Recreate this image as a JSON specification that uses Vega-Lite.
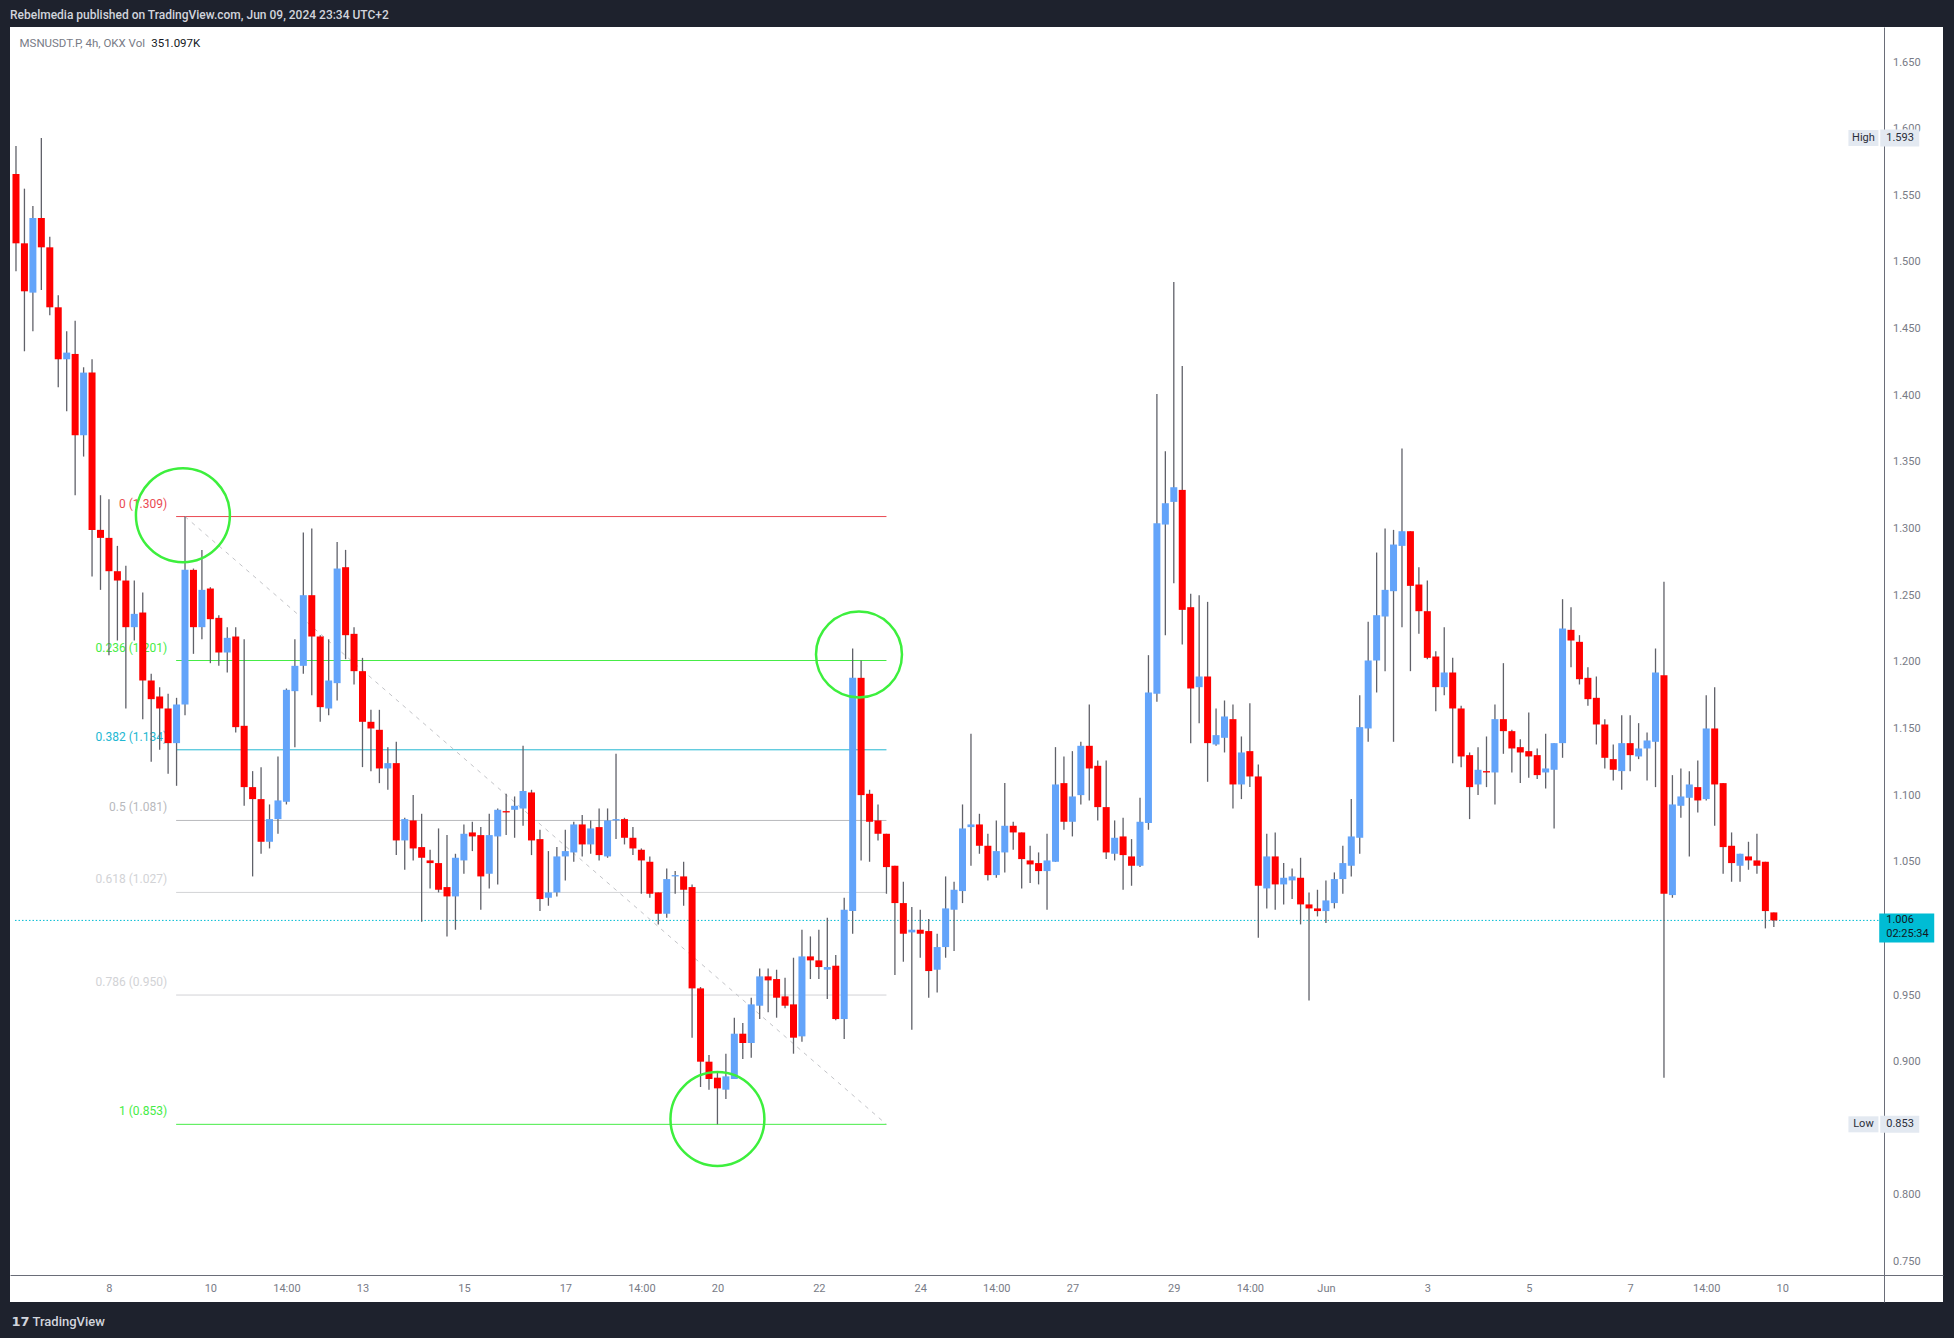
{
  "$schema": "https://vega.github.io/schema/vega-lite/v6.json",
  "width": 1933,
  "height": 1275,
  "autosize": "none",
  "padding": {"left": 10, "top": 27, "right": 11, "bottom": 36},
  "background": "#1e222d",
  "title": {
    "text": "Rebelmedia published on TradingView.com, Jun 09, 2024 23:34 UTC+2",
    "anchor": "start", "color": "#d1d4dc", "font": "Roboto", "fontSize": 12, "fontWeight": 500, "offset": 5
  },
  "config": {
    "font": "Roboto",
    "view": {"fill": "#ffffff", "stroke": null},
    "axis": {
      "grid": false, "ticks": false, "domainColor": "#6a6d78", "labelColor": "#787b86",
      "labelFont": "Roboto", "labelFontSize": 11, "labelOverlap": false, "labelFlush": false, "labelBound": false
    }
  },
  "datasets": {
    "candles": [
      {"t":"2024-05-06T06:00Z","o":1.566,"h":1.587,"l":1.493,"c":1.514},
      {"t":"2024-05-06T10:00Z","o":1.514,"h":1.555,"l":1.433,"c":1.478},
      {"t":"2024-05-06T14:00Z","o":1.477,"h":1.542,"l":1.448,"c":1.533},
      {"t":"2024-05-06T18:00Z","o":1.533,"h":1.593,"l":1.479,"c":1.511},
      {"t":"2024-05-06T22:00Z","o":1.511,"h":1.519,"l":1.460,"c":1.466},
      {"t":"2024-05-07T02:00Z","o":1.466,"h":1.475,"l":1.406,"c":1.427},
      {"t":"2024-05-07T06:00Z","o":1.427,"h":1.448,"l":1.388,"c":1.432},
      {"t":"2024-05-07T10:00Z","o":1.431,"h":1.456,"l":1.325,"c":1.370},
      {"t":"2024-05-07T14:00Z","o":1.370,"h":1.421,"l":1.354,"c":1.417},
      {"t":"2024-05-07T18:00Z","o":1.417,"h":1.427,"l":1.264,"c":1.299},
      {"t":"2024-05-07T22:00Z","o":1.299,"h":1.325,"l":1.254,"c":1.293},
      {"t":"2024-05-08T02:00Z","o":1.293,"h":1.322,"l":1.205,"c":1.268},
      {"t":"2024-05-08T06:00Z","o":1.268,"h":1.287,"l":1.216,"c":1.261},
      {"t":"2024-05-08T10:00Z","o":1.261,"h":1.272,"l":1.165,"c":1.226},
      {"t":"2024-05-08T14:00Z","o":1.226,"h":1.261,"l":1.216,"c":1.236},
      {"t":"2024-05-08T18:00Z","o":1.237,"h":1.252,"l":1.157,"c":1.186},
      {"t":"2024-05-08T22:00Z","o":1.186,"h":1.191,"l":1.125,"c":1.172},
      {"t":"2024-05-09T02:00Z","o":1.174,"h":1.181,"l":1.134,"c":1.165},
      {"t":"2024-05-09T06:00Z","o":1.165,"h":1.176,"l":1.116,"c":1.139},
      {"t":"2024-05-09T10:00Z","o":1.139,"h":1.173,"l":1.107,"c":1.168},
      {"t":"2024-05-09T14:00Z","o":1.168,"h":1.309,"l":1.160,"c":1.269},
      {"t":"2024-05-09T18:00Z","o":1.269,"h":1.270,"l":1.206,"c":1.226},
      {"t":"2024-05-09T22:00Z","o":1.226,"h":1.284,"l":1.217,"c":1.254},
      {"t":"2024-05-10T02:00Z","o":1.255,"h":1.256,"l":1.199,"c":1.232},
      {"t":"2024-05-10T06:00Z","o":1.233,"h":1.235,"l":1.197,"c":1.207},
      {"t":"2024-05-10T10:00Z","o":1.207,"h":1.226,"l":1.192,"c":1.218},
      {"t":"2024-05-10T14:00Z","o":1.219,"h":1.226,"l":1.147,"c":1.151},
      {"t":"2024-05-10T18:00Z","o":1.152,"h":1.217,"l":1.092,"c":1.106},
      {"t":"2024-05-10T22:00Z","o":1.106,"h":1.118,"l":1.039,"c":1.097},
      {"t":"2024-05-11T02:00Z","o":1.097,"h":1.121,"l":1.056,"c":1.065},
      {"t":"2024-05-11T06:00Z","o":1.065,"h":1.093,"l":1.060,"c":1.082},
      {"t":"2024-05-11T10:00Z","o":1.082,"h":1.129,"l":1.071,"c":1.096},
      {"t":"2024-05-11T14:00Z","o":1.095,"h":1.180,"l":1.093,"c":1.179},
      {"t":"2024-05-11T18:00Z","o":1.178,"h":1.217,"l":1.136,"c":1.197},
      {"t":"2024-05-11T22:00Z","o":1.197,"h":1.297,"l":1.191,"c":1.250},
      {"t":"2024-05-12T02:00Z","o":1.250,"h":1.300,"l":1.175,"c":1.219},
      {"t":"2024-05-12T06:00Z","o":1.219,"h":1.220,"l":1.155,"c":1.166},
      {"t":"2024-05-12T10:00Z","o":1.165,"h":1.217,"l":1.160,"c":1.186},
      {"t":"2024-05-12T14:00Z","o":1.184,"h":1.290,"l":1.171,"c":1.270},
      {"t":"2024-05-12T18:00Z","o":1.271,"h":1.284,"l":1.202,"c":1.220},
      {"t":"2024-05-12T22:00Z","o":1.221,"h":1.226,"l":1.183,"c":1.193},
      {"t":"2024-05-13T02:00Z","o":1.193,"h":1.203,"l":1.121,"c":1.155},
      {"t":"2024-05-13T06:00Z","o":1.155,"h":1.164,"l":1.118,"c":1.150},
      {"t":"2024-05-13T10:00Z","o":1.149,"h":1.164,"l":1.109,"c":1.120},
      {"t":"2024-05-13T14:00Z","o":1.120,"h":1.136,"l":1.104,"c":1.124},
      {"t":"2024-05-13T18:00Z","o":1.124,"h":1.140,"l":1.055,"c":1.066},
      {"t":"2024-05-13T22:00Z","o":1.066,"h":1.083,"l":1.044,"c":1.082},
      {"t":"2024-05-14T02:00Z","o":1.081,"h":1.100,"l":1.051,"c":1.060},
      {"t":"2024-05-14T06:00Z","o":1.061,"h":1.086,"l":1.005,"c":1.053},
      {"t":"2024-05-14T10:00Z","o":1.051,"h":1.059,"l":1.030,"c":1.049},
      {"t":"2024-05-14T14:00Z","o":1.049,"h":1.075,"l":1.027,"c":1.029},
      {"t":"2024-05-14T18:00Z","o":1.031,"h":1.070,"l":0.994,"c":1.024},
      {"t":"2024-05-14T22:00Z","o":1.024,"h":1.056,"l":0.999,"c":1.053},
      {"t":"2024-05-15T02:00Z","o":1.051,"h":1.078,"l":1.041,"c":1.071},
      {"t":"2024-05-15T06:00Z","o":1.072,"h":1.080,"l":1.058,"c":1.069},
      {"t":"2024-05-15T10:00Z","o":1.070,"h":1.076,"l":1.014,"c":1.039},
      {"t":"2024-05-15T14:00Z","o":1.041,"h":1.086,"l":1.030,"c":1.070},
      {"t":"2024-05-15T18:00Z","o":1.069,"h":1.090,"l":1.033,"c":1.089},
      {"t":"2024-05-15T22:00Z","o":1.088,"h":1.101,"l":1.070,"c":1.087},
      {"t":"2024-05-16T02:00Z","o":1.089,"h":1.099,"l":1.068,"c":1.092},
      {"t":"2024-05-16T06:00Z","o":1.090,"h":1.137,"l":1.077,"c":1.103},
      {"t":"2024-05-16T10:00Z","o":1.102,"h":1.104,"l":1.055,"c":1.066},
      {"t":"2024-05-16T14:00Z","o":1.067,"h":1.074,"l":1.013,"c":1.022},
      {"t":"2024-05-16T18:00Z","o":1.023,"h":1.058,"l":1.017,"c":1.027},
      {"t":"2024-05-16T22:00Z","o":1.027,"h":1.061,"l":1.024,"c":1.054},
      {"t":"2024-05-17T02:00Z","o":1.054,"h":1.074,"l":1.036,"c":1.058},
      {"t":"2024-05-17T06:00Z","o":1.057,"h":1.080,"l":1.050,"c":1.078},
      {"t":"2024-05-17T10:00Z","o":1.078,"h":1.085,"l":1.054,"c":1.063},
      {"t":"2024-05-17T14:00Z","o":1.063,"h":1.081,"l":1.056,"c":1.075},
      {"t":"2024-05-17T18:00Z","o":1.076,"h":1.090,"l":1.051,"c":1.055},
      {"t":"2024-05-17T22:00Z","o":1.054,"h":1.090,"l":1.053,"c":1.081},
      {"t":"2024-05-18T02:00Z","o":1.081,"h":1.131,"l":1.067,"c":1.082},
      {"t":"2024-05-18T06:00Z","o":1.082,"h":1.083,"l":1.063,"c":1.068},
      {"t":"2024-05-18T10:00Z","o":1.068,"h":1.076,"l":1.055,"c":1.060},
      {"t":"2024-05-18T14:00Z","o":1.059,"h":1.060,"l":1.026,"c":1.051},
      {"t":"2024-05-18T18:00Z","o":1.050,"h":1.054,"l":1.023,"c":1.026},
      {"t":"2024-05-18T22:00Z","o":1.027,"h":1.027,"l":1.003,"c":1.011},
      {"t":"2024-05-19T02:00Z","o":1.011,"h":1.045,"l":1.008,"c":1.037},
      {"t":"2024-05-19T06:00Z","o":1.039,"h":1.043,"l":1.026,"c":1.040},
      {"t":"2024-05-19T10:00Z","o":1.039,"h":1.050,"l":1.017,"c":1.029},
      {"t":"2024-05-19T14:00Z","o":1.031,"h":1.033,"l":0.918,"c":0.955},
      {"t":"2024-05-19T18:00Z","o":0.955,"h":0.956,"l":0.881,"c":0.900},
      {"t":"2024-05-19T22:00Z","o":0.900,"h":0.905,"l":0.879,"c":0.887},
      {"t":"2024-05-20T02:00Z","o":0.888,"h":0.893,"l":0.853,"c":0.880},
      {"t":"2024-05-20T06:00Z","o":0.879,"h":0.906,"l":0.872,"c":0.889},
      {"t":"2024-05-20T10:00Z","o":0.887,"h":0.933,"l":0.887,"c":0.921},
      {"t":"2024-05-20T14:00Z","o":0.921,"h":0.929,"l":0.902,"c":0.914},
      {"t":"2024-05-20T18:00Z","o":0.914,"h":0.948,"l":0.903,"c":0.943},
      {"t":"2024-05-20T22:00Z","o":0.942,"h":0.970,"l":0.932,"c":0.964},
      {"t":"2024-05-21T02:00Z","o":0.964,"h":0.970,"l":0.937,"c":0.961},
      {"t":"2024-05-21T06:00Z","o":0.962,"h":0.969,"l":0.933,"c":0.948},
      {"t":"2024-05-21T10:00Z","o":0.949,"h":0.963,"l":0.940,"c":0.942},
      {"t":"2024-05-21T14:00Z","o":0.943,"h":0.978,"l":0.906,"c":0.918},
      {"t":"2024-05-21T18:00Z","o":0.919,"h":0.999,"l":0.915,"c":0.979},
      {"t":"2024-05-21T22:00Z","o":0.979,"h":0.994,"l":0.962,"c":0.976},
      {"t":"2024-05-22T02:00Z","o":0.976,"h":0.999,"l":0.962,"c":0.971},
      {"t":"2024-05-22T06:00Z","o":0.969,"h":1.008,"l":0.947,"c":0.971},
      {"t":"2024-05-22T10:00Z","o":0.972,"h":0.980,"l":0.931,"c":0.932},
      {"t":"2024-05-22T14:00Z","o":0.932,"h":1.023,"l":0.917,"c":1.014},
      {"t":"2024-05-22T18:00Z","o":1.013,"h":1.210,"l":0.996,"c":1.188},
      {"t":"2024-05-22T22:00Z","o":1.188,"h":1.201,"l":1.051,"c":1.100},
      {"t":"2024-05-23T02:00Z","o":1.101,"h":1.104,"l":1.050,"c":1.080},
      {"t":"2024-05-23T06:00Z","o":1.081,"h":1.093,"l":1.066,"c":1.071},
      {"t":"2024-05-23T10:00Z","o":1.071,"h":1.071,"l":1.026,"c":1.046},
      {"t":"2024-05-23T14:00Z","o":1.047,"h":1.047,"l":0.965,"c":1.019},
      {"t":"2024-05-23T18:00Z","o":1.019,"h":1.035,"l":0.975,"c":0.996},
      {"t":"2024-05-23T22:00Z","o":0.997,"h":1.016,"l":0.924,"c":0.999},
      {"t":"2024-05-24T02:00Z","o":0.999,"h":1.014,"l":0.978,"c":0.996},
      {"t":"2024-05-24T06:00Z","o":0.998,"h":1.007,"l":0.948,"c":0.968},
      {"t":"2024-05-24T10:00Z","o":0.969,"h":0.996,"l":0.952,"c":0.986},
      {"t":"2024-05-24T14:00Z","o":0.986,"h":1.039,"l":0.978,"c":1.015},
      {"t":"2024-05-24T18:00Z","o":1.014,"h":1.035,"l":0.983,"c":1.029},
      {"t":"2024-05-24T22:00Z","o":1.028,"h":1.093,"l":1.019,"c":1.075},
      {"t":"2024-05-25T02:00Z","o":1.076,"h":1.146,"l":1.047,"c":1.078},
      {"t":"2024-05-25T06:00Z","o":1.078,"h":1.086,"l":1.056,"c":1.062},
      {"t":"2024-05-25T10:00Z","o":1.062,"h":1.071,"l":1.036,"c":1.040},
      {"t":"2024-05-25T14:00Z","o":1.040,"h":1.081,"l":1.038,"c":1.058},
      {"t":"2024-05-25T18:00Z","o":1.057,"h":1.109,"l":1.042,"c":1.077},
      {"t":"2024-05-25T22:00Z","o":1.077,"h":1.080,"l":1.059,"c":1.072},
      {"t":"2024-05-26T02:00Z","o":1.072,"h":1.072,"l":1.030,"c":1.052},
      {"t":"2024-05-26T06:00Z","o":1.051,"h":1.062,"l":1.034,"c":1.048},
      {"t":"2024-05-26T10:00Z","o":1.049,"h":1.057,"l":1.033,"c":1.043},
      {"t":"2024-05-26T14:00Z","o":1.043,"h":1.071,"l":1.014,"c":1.051},
      {"t":"2024-05-26T18:00Z","o":1.050,"h":1.136,"l":1.050,"c":1.108},
      {"t":"2024-05-26T22:00Z","o":1.109,"h":1.129,"l":1.074,"c":1.080},
      {"t":"2024-05-27T02:00Z","o":1.080,"h":1.133,"l":1.069,"c":1.099},
      {"t":"2024-05-27T06:00Z","o":1.100,"h":1.140,"l":1.093,"c":1.137},
      {"t":"2024-05-27T10:00Z","o":1.137,"h":1.168,"l":1.096,"c":1.120},
      {"t":"2024-05-27T14:00Z","o":1.122,"h":1.126,"l":1.081,"c":1.091},
      {"t":"2024-05-27T18:00Z","o":1.091,"h":1.126,"l":1.052,"c":1.057},
      {"t":"2024-05-27T22:00Z","o":1.056,"h":1.081,"l":1.051,"c":1.068},
      {"t":"2024-05-28T02:00Z","o":1.069,"h":1.083,"l":1.029,"c":1.055},
      {"t":"2024-05-28T06:00Z","o":1.054,"h":1.067,"l":1.032,"c":1.047},
      {"t":"2024-05-28T10:00Z","o":1.047,"h":1.098,"l":1.046,"c":1.080},
      {"t":"2024-05-28T14:00Z","o":1.079,"h":1.205,"l":1.074,"c":1.177},
      {"t":"2024-05-28T18:00Z","o":1.176,"h":1.401,"l":1.170,"c":1.304},
      {"t":"2024-05-28T22:00Z","o":1.303,"h":1.358,"l":1.220,"c":1.319},
      {"t":"2024-05-29T02:00Z","o":1.320,"h":1.485,"l":1.259,"c":1.331},
      {"t":"2024-05-29T06:00Z","o":1.329,"h":1.422,"l":1.213,"c":1.239},
      {"t":"2024-05-29T10:00Z","o":1.241,"h":1.251,"l":1.139,"c":1.180},
      {"t":"2024-05-29T14:00Z","o":1.181,"h":1.250,"l":1.154,"c":1.189},
      {"t":"2024-05-29T18:00Z","o":1.189,"h":1.245,"l":1.110,"c":1.139},
      {"t":"2024-05-29T22:00Z","o":1.138,"h":1.165,"l":1.137,"c":1.145},
      {"t":"2024-05-30T02:00Z","o":1.143,"h":1.171,"l":1.132,"c":1.159},
      {"t":"2024-05-30T06:00Z","o":1.157,"h":1.168,"l":1.090,"c":1.108},
      {"t":"2024-05-30T10:00Z","o":1.108,"h":1.144,"l":1.097,"c":1.132},
      {"t":"2024-05-30T14:00Z","o":1.133,"h":1.169,"l":1.106,"c":1.114},
      {"t":"2024-05-30T18:00Z","o":1.114,"h":1.123,"l":0.993,"c":1.032},
      {"t":"2024-05-30T22:00Z","o":1.030,"h":1.071,"l":1.015,"c":1.054},
      {"t":"2024-05-31T02:00Z","o":1.054,"h":1.072,"l":1.014,"c":1.033},
      {"t":"2024-05-31T06:00Z","o":1.033,"h":1.049,"l":1.018,"c":1.038},
      {"t":"2024-05-31T10:00Z","o":1.036,"h":1.045,"l":1.022,"c":1.039},
      {"t":"2024-05-31T14:00Z","o":1.038,"h":1.053,"l":1.003,"c":1.018},
      {"t":"2024-05-31T18:00Z","o":1.018,"h":1.027,"l":0.946,"c":1.015},
      {"t":"2024-05-31T22:00Z","o":1.015,"h":1.029,"l":1.009,"c":1.013},
      {"t":"2024-06-01T02:00Z","o":1.013,"h":1.036,"l":1.004,"c":1.021},
      {"t":"2024-06-01T06:00Z","o":1.019,"h":1.042,"l":1.015,"c":1.037},
      {"t":"2024-06-01T10:00Z","o":1.037,"h":1.062,"l":1.026,"c":1.049},
      {"t":"2024-06-01T14:00Z","o":1.047,"h":1.097,"l":1.039,"c":1.069},
      {"t":"2024-06-01T18:00Z","o":1.068,"h":1.175,"l":1.056,"c":1.151},
      {"t":"2024-06-01T22:00Z","o":1.150,"h":1.230,"l":1.140,"c":1.201},
      {"t":"2024-06-02T02:00Z","o":1.201,"h":1.282,"l":1.177,"c":1.235},
      {"t":"2024-06-02T06:00Z","o":1.234,"h":1.300,"l":1.193,"c":1.254},
      {"t":"2024-06-02T10:00Z","o":1.253,"h":1.299,"l":1.140,"c":1.288},
      {"t":"2024-06-02T14:00Z","o":1.287,"h":1.360,"l":1.226,"c":1.298},
      {"t":"2024-06-02T18:00Z","o":1.298,"h":1.298,"l":1.193,"c":1.257},
      {"t":"2024-06-02T22:00Z","o":1.258,"h":1.271,"l":1.221,"c":1.238},
      {"t":"2024-06-03T02:00Z","o":1.238,"h":1.261,"l":1.202,"c":1.203},
      {"t":"2024-06-03T06:00Z","o":1.204,"h":1.208,"l":1.163,"c":1.181},
      {"t":"2024-06-03T10:00Z","o":1.181,"h":1.226,"l":1.175,"c":1.192},
      {"t":"2024-06-03T14:00Z","o":1.192,"h":1.203,"l":1.124,"c":1.165},
      {"t":"2024-06-03T18:00Z","o":1.165,"h":1.167,"l":1.121,"c":1.129},
      {"t":"2024-06-03T22:00Z","o":1.130,"h":1.132,"l":1.082,"c":1.106},
      {"t":"2024-06-04T02:00Z","o":1.108,"h":1.136,"l":1.100,"c":1.119},
      {"t":"2024-06-04T06:00Z","o":1.118,"h":1.144,"l":1.106,"c":1.117},
      {"t":"2024-06-04T10:00Z","o":1.117,"h":1.168,"l":1.093,"c":1.157},
      {"t":"2024-06-04T14:00Z","o":1.157,"h":1.199,"l":1.131,"c":1.148},
      {"t":"2024-06-04T18:00Z","o":1.148,"h":1.149,"l":1.117,"c":1.135},
      {"t":"2024-06-04T22:00Z","o":1.136,"h":1.142,"l":1.109,"c":1.132},
      {"t":"2024-06-05T02:00Z","o":1.133,"h":1.162,"l":1.113,"c":1.129},
      {"t":"2024-06-05T06:00Z","o":1.130,"h":1.135,"l":1.112,"c":1.115},
      {"t":"2024-06-05T10:00Z","o":1.117,"h":1.146,"l":1.105,"c":1.120},
      {"t":"2024-06-05T14:00Z","o":1.119,"h":1.139,"l":1.075,"c":1.139},
      {"t":"2024-06-05T18:00Z","o":1.139,"h":1.247,"l":1.128,"c":1.225},
      {"t":"2024-06-05T22:00Z","o":1.224,"h":1.241,"l":1.196,"c":1.216},
      {"t":"2024-06-06T02:00Z","o":1.215,"h":1.220,"l":1.183,"c":1.187},
      {"t":"2024-06-06T06:00Z","o":1.188,"h":1.196,"l":1.167,"c":1.172},
      {"t":"2024-06-06T10:00Z","o":1.173,"h":1.189,"l":1.138,"c":1.153},
      {"t":"2024-06-06T14:00Z","o":1.153,"h":1.157,"l":1.120,"c":1.128},
      {"t":"2024-06-06T18:00Z","o":1.127,"h":1.138,"l":1.111,"c":1.119},
      {"t":"2024-06-06T22:00Z","o":1.118,"h":1.160,"l":1.104,"c":1.139},
      {"t":"2024-06-07T02:00Z","o":1.139,"h":1.160,"l":1.118,"c":1.130},
      {"t":"2024-06-07T06:00Z","o":1.129,"h":1.154,"l":1.127,"c":1.135},
      {"t":"2024-06-07T10:00Z","o":1.135,"h":1.147,"l":1.111,"c":1.141},
      {"t":"2024-06-07T14:00Z","o":1.140,"h":1.210,"l":1.106,"c":1.192},
      {"t":"2024-06-07T18:00Z","o":1.190,"h":1.260,"l":0.888,"c":1.026},
      {"t":"2024-06-07T22:00Z","o":1.025,"h":1.115,"l":1.023,"c":1.093},
      {"t":"2024-06-08T02:00Z","o":1.092,"h":1.120,"l":1.083,"c":1.099},
      {"t":"2024-06-08T06:00Z","o":1.098,"h":1.118,"l":1.054,"c":1.108},
      {"t":"2024-06-08T10:00Z","o":1.106,"h":1.126,"l":1.087,"c":1.096},
      {"t":"2024-06-08T14:00Z","o":1.097,"h":1.175,"l":1.096,"c":1.150},
      {"t":"2024-06-08T18:00Z","o":1.150,"h":1.181,"l":1.077,"c":1.108},
      {"t":"2024-06-08T22:00Z","o":1.109,"h":1.109,"l":1.041,"c":1.061},
      {"t":"2024-06-09T02:00Z","o":1.062,"h":1.072,"l":1.035,"c":1.049},
      {"t":"2024-06-09T06:00Z","o":1.047,"h":1.056,"l":1.035,"c":1.056},
      {"t":"2024-06-09T10:00Z","o":1.054,"h":1.065,"l":1.044,"c":1.051},
      {"t":"2024-06-09T14:00Z","o":1.051,"h":1.071,"l":1.041,"c":1.047},
      {"t":"2024-06-09T18:00Z","o":1.050,"h":1.050,"l":1.000,"c":1.013},
      {"t":"2024-06-09T22:00Z","o":1.012,"h":1.012,"l":1.001,"c":1.006}
    ],
    "fib": [
      {"lvl":"0","p":1.309,"lab":"0 (1.309)"},
      {"lvl":"0.236","p":1.201,"lab":"0.236 (1.201)"},
      {"lvl":"0.382","p":1.134,"lab":"0.382 (1.134)"},
      {"lvl":"0.5","p":1.081,"lab":"0.5 (1.081)"},
      {"lvl":"0.618","p":1.027,"lab":"0.618 (1.027)"},
      {"lvl":"0.786","p":0.950,"lab":"0.786 (0.950)"},
      {"lvl":"1","p":0.853,"lab":"1 (0.853)"}
    ],
    "trend": [
      {"t":"2024-05-09T14:00Z","p":1.309},
      {"t":"2024-05-23T10:00Z","p":0.853}
    ],
    "circles": [
      {"id":1,"t":"2024-05-09T13:00Z","p":1.310},
      {"id":2,"t":"2024-05-22T21:00Z","p":1.2055},
      {"id":3,"t":"2024-05-20T02:00Z","p":0.857}
    ],
    "extremes": [
      {"lab":"High","v":1.593,"txt":"1.593"},
      {"lab":"Low","v":0.853,"txt":"0.853"}
    ],
    "last": [
      {"v":1.006,"txt":"1.006","timer":"02:25:34"}
    ],
    "legend": [
      {"sym":"MSNUSDT.P, 4h, OKX  Vol","vol":"351.097K"}
    ]
  },
  "layer": [
    {
      "data": {"name": "last"},
      "mark": {"type": "rule", "color": "#00bcd4", "strokeWidth": 1, "strokeDash": [1.5, 2]},
      "encoding": {
        "x": {"datum": {"year": 2024, "month": 5, "date": 6, "hours": 5, "minutes": 32, "utc": true}, "type": "temporal"},
        "x2": {"datum": {"year": 2024, "month": 6, "date": 12, "hours": 0, "minutes": 6, "utc": true}},
        "y": {"field": "v", "type": "quantitative"}
      }
    },
    {
      "data": {"name": "fib"},
      "mark": {"type": "rule", "strokeWidth": 1},
      "encoding": {
        "x": {"datum": {"year": 2024, "month": 5, "date": 9, "hours": 9, "minutes": 48, "utc": true}, "type": "temporal"},
        "x2": {"datum": {"year": 2024, "month": 5, "date": 23, "hours": 10, "utc": true}},
        "y": {"field": "p", "type": "quantitative"},
        "color": {
          "field": "lvl", "type": "nominal", "legend": null,
          "scale": {
            "domain": ["0", "0.236", "0.382", "0.5", "0.618", "0.786", "1"],
            "range": ["#ea4a52", "#46ec46", "#22b7d2", "#b8b9bd", "#d2d3d6", "#d2d3d6", "#46ec46"]
          }
        }
      }
    },
    {
      "data": {"name": "fib"},
      "mark": {"type": "text", "align": "right", "baseline": "middle", "dx": -9, "dy": -13, "fontSize": 12},
      "encoding": {
        "x": {"datum": {"year": 2024, "month": 5, "date": 9, "hours": 9, "minutes": 48, "utc": true}, "type": "temporal"},
        "y": {"field": "p", "type": "quantitative"},
        "text": {"field": "lab"},
        "color": {"field": "lvl", "type": "nominal", "legend": null}
      }
    },
    {
      "data": {"name": "trend"},
      "mark": {"type": "line", "color": "#c3c4c8", "strokeWidth": 1, "strokeDash": [4, 5]},
      "encoding": {
        "x": {"field": "t", "type": "temporal"},
        "y": {"field": "p", "type": "quantitative"}
      }
    },
    {
      "data": {"name": "candles"},
      "mark": {"type": "rule", "color": "#606169", "strokeWidth": 1.3},
      "encoding": {
        "x": {
          "field": "t", "type": "temporal",
          "scale": {
            "type": "utc",
            "domain": [
              {"year": 2024, "month": 5, "date": 6, "hours": 5, "minutes": 32, "utc": true},
              {"year": 2024, "month": 6, "date": 13, "hours": 3, "minutes": 42, "utc": true}
            ]
          },
          "axis": {
            "offset": -27, "labelPadding": 7,
            "values": [
              {"year": 2024, "month": 5, "date": 8, "hours": 2, "utc": true},
              {"year": 2024, "month": 5, "date": 10, "hours": 2, "utc": true},
              {"year": 2024, "month": 5, "date": 11, "hours": 14, "utc": true},
              {"year": 2024, "month": 5, "date": 13, "hours": 2, "utc": true},
              {"year": 2024, "month": 5, "date": 15, "hours": 2, "utc": true},
              {"year": 2024, "month": 5, "date": 17, "hours": 2, "utc": true},
              {"year": 2024, "month": 5, "date": 18, "hours": 14, "utc": true},
              {"year": 2024, "month": 5, "date": 20, "hours": 2, "utc": true},
              {"year": 2024, "month": 5, "date": 22, "hours": 2, "utc": true},
              {"year": 2024, "month": 5, "date": 24, "hours": 2, "utc": true},
              {"year": 2024, "month": 5, "date": 25, "hours": 14, "utc": true},
              {"year": 2024, "month": 5, "date": 27, "hours": 2, "utc": true},
              {"year": 2024, "month": 5, "date": 29, "hours": 2, "utc": true},
              {"year": 2024, "month": 5, "date": 30, "hours": 14, "utc": true},
              {"year": 2024, "month": 6, "date": 1, "hours": 2, "utc": true},
              {"year": 2024, "month": 6, "date": 3, "hours": 2, "utc": true},
              {"year": 2024, "month": 6, "date": 5, "hours": 2, "utc": true},
              {"year": 2024, "month": 6, "date": 7, "hours": 2, "utc": true},
              {"year": 2024, "month": 6, "date": 8, "hours": 14, "utc": true},
              {"year": 2024, "month": 6, "date": 10, "hours": 2, "utc": true}
            ],
            "labelExpr": "utchours(datum.value) == 14 ? '14:00' : (utcdate(datum.value) == 1 ? 'Jun' : utcFormat(datum.value, '%-d'))",
            "title": "TradingView", "titleX": 22, "titleY": 46, "titleAlign": "left", "titleBaseline": "middle",
            "titleColor": "#d1d4dc", "titleFont": "Roboto", "titleFontSize": 13, "titleFontWeight": 500
          }
        },
        "y": {
          "field": "l", "type": "quantitative",
          "scale": {"domain": [0.7197, 1.6763], "nice": false, "zero": false},
          "axis": {
            "orient": "right", "offset": -59, "labelPadding": 8.5, "labelAlign": "left", "format": ".3f",
            "values": [0.75, 0.8, 0.9, 0.95, 1.05, 1.1, 1.15, 1.2, 1.25, 1.3, 1.35, 1.4, 1.45, 1.5, 1.55, 1.6, 1.65],
            "title": "17", "titleAngle": 0, "titleX": -1864, "titleY": 1294, "titleAlign": "center", "titleBaseline": "middle",
            "titleColor": "#d1d4dc", "titleFont": "DejaVu Sans", "titleFontSize": 13, "titleFontWeight": 900
          }
        },
        "y2": {"field": "h"}
      }
    },
    {
      "data": {"name": "candles"},
      "mark": {"type": "bar", "width": 7},
      "encoding": {
        "x": {"field": "t", "type": "temporal"},
        "y": {"field": "o", "type": "quantitative"},
        "y2": {"field": "c"},
        "color": {"condition": {"test": "datum.c >= datum.o", "value": "#63a4fa"}, "value": "#ff0000"}
      }
    },
    {
      "data": {"name": "circles"},
      "mark": {"type": "point", "shape": "circle", "filled": false, "color": "#3def3d", "strokeWidth": 2.5, "opacity": 1},
      "encoding": {
        "x": {"field": "t", "type": "temporal"},
        "y": {"field": "p", "type": "quantitative"},
        "size": {"condition": {"test": "datum.id == 2", "value": 7390}, "value": 8825}
      }
    },
    {
      "data": {"name": "legend"},
      "mark": {"type": "text", "align": "left", "baseline": "middle", "fontSize": 11.5, "color": "#787b86"},
      "encoding": {
        "x": {"datum": {"year": 2024, "month": 5, "date": 6, "hours": 7, "minutes": 40, "utc": true}, "type": "temporal"},
        "y": {"datum": 1.6635, "type": "quantitative"},
        "text": {"field": "sym"}
      }
    },
    {
      "data": {"name": "legend"},
      "mark": {"type": "text", "align": "left", "baseline": "middle", "fontSize": 11.5, "color": "#131722"},
      "encoding": {
        "x": {"datum": {"year": 2024, "month": 5, "date": 8, "hours": 22, "minutes": 0, "utc": true}, "type": "temporal"},
        "y": {"datum": 1.6635, "type": "quantitative"},
        "text": {"field": "vol"}
      }
    },
    {
      "data": {"name": "extremes"},
      "mark": {"type": "point", "shape": "M-1.5,-0.8H1.5V0.8H-1.5Z", "filled": true, "color": "#e3e9f1", "opacity": 1, "size": 400},
      "encoding": {
        "x": {"datum": {"year": 2024, "month": 6, "date": 11, "hours": 16, "minutes": 24, "utc": true}, "type": "temporal"},
        "y": {"field": "v", "type": "quantitative"}
      }
    },
    {
      "data": {"name": "extremes"},
      "mark": {"type": "point", "shape": "M-1.95,-0.85H1.95V0.85H-1.95Z", "filled": true, "color": "#e3e9f1", "opacity": 1, "size": 400},
      "encoding": {
        "x": {"datum": {"year": 2024, "month": 6, "date": 12, "hours": 9, "minutes": 36, "utc": true}, "type": "temporal"},
        "y": {"field": "v", "type": "quantitative"}
      }
    },
    {
      "data": {"name": "extremes"},
      "mark": {"type": "text", "align": "center", "baseline": "middle", "fontSize": 11, "color": "#2a2e39"},
      "encoding": {
        "x": {"datum": {"year": 2024, "month": 6, "date": 11, "hours": 16, "minutes": 24, "utc": true}, "type": "temporal"},
        "y": {"field": "v", "type": "quantitative"},
        "text": {"field": "lab"}
      }
    },
    {
      "data": {"name": "extremes"},
      "mark": {"type": "text", "align": "left", "baseline": "middle", "fontSize": 11, "color": "#2a2e39"},
      "encoding": {
        "x": {"datum": {"year": 2024, "month": 6, "date": 12, "hours": 3, "minutes": 12, "utc": true}, "type": "temporal"},
        "y": {"field": "v", "type": "quantitative"},
        "text": {"field": "txt"}
      }
    },
    {
      "data": {"name": "last"},
      "mark": {"type": "point", "shape": "M-2.75,-0.7H2.75V2.2H-2.75Z", "filled": true, "color": "#00bcd4", "opacity": 1, "size": 400},
      "encoding": {
        "x": {"datum": {"year": 2024, "month": 6, "date": 12, "hours": 12, "minutes": 54, "utc": true}, "type": "temporal"},
        "y": {"field": "v", "type": "quantitative"}
      }
    },
    {
      "data": {"name": "last"},
      "mark": {"type": "text", "align": "left", "baseline": "middle", "fontSize": 11, "color": "#131722"},
      "encoding": {
        "x": {"datum": {"year": 2024, "month": 6, "date": 12, "hours": 3, "minutes": 12, "utc": true}, "type": "temporal"},
        "y": {"field": "v", "type": "quantitative"},
        "text": {"field": "txt"}
      }
    },
    {
      "data": {"name": "last"},
      "mark": {"type": "text", "align": "left", "baseline": "middle", "dy": 14, "fontSize": 11, "color": "#131722"},
      "encoding": {
        "x": {"datum": {"year": 2024, "month": 6, "date": 12, "hours": 3, "minutes": 12, "utc": true}, "type": "temporal"},
        "y": {"field": "v", "type": "quantitative"},
        "text": {"field": "timer"}
      }
    }
  ]
}
